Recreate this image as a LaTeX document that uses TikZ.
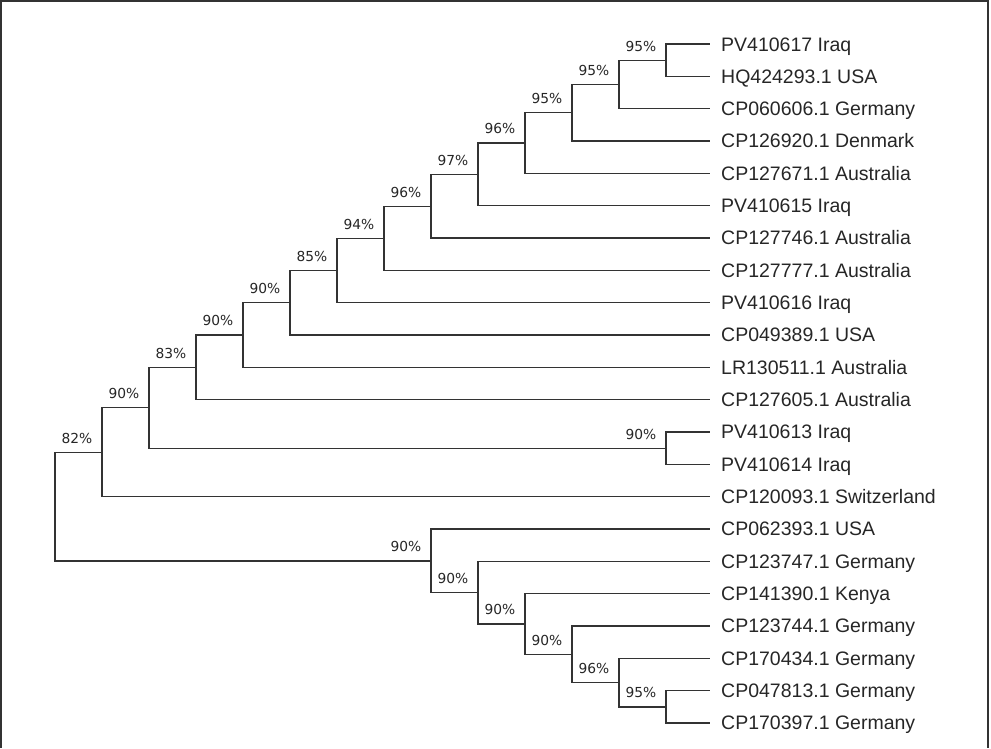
\documentclass[tikz,border=0pt]{standalone}
\usepackage{fontspec}
\setmainfont{Liberation Sans}
\newfontfamily\bootfont{DejaVu Sans}
\definecolor{treeline}{HTML}{333333}
\definecolor{leaftext}{HTML}{262626}
\begin{document}
\begin{tikzpicture}[x=1pt,y=-1pt,
    branch/.style={draw=treeline,line width=1.4pt},
    leaf/.style={anchor=west,inner xsep=11pt,inner ysep=0pt,text height=14pt,
      text depth=0pt,text=leaftext,font=\fontsize{19.5}{22}\selectfont},
    boot/.style={inner sep=0pt,text height=9.8pt,text depth=0pt,text=leaftext,
      font=\bootfont\fontsize{13.8}{15}\selectfont}]
  \useasboundingbox (0,0) rectangle (991,748);
  % frame, open at the bottom
  \draw[treeline,line width=1.5pt] (0.75,748) -- (0.75,0.75) -- (988,0.75) -- (988,748);

  % taxa, one row each
  \foreach \i/\lab in {0/PV410617 Iraq,1/HQ424293.1 USA,2/CP060606.1 Germany,
      3/CP126920.1 Denmark,4/CP127671.1 Australia,5/PV410615 Iraq,
      6/CP127746.1 Australia,7/CP127777.1 Australia,8/PV410616 Iraq,
      9/CP049389.1 USA,10/LR130511.1 Australia,11/CP127605.1 Australia,
      12/PV410613 Iraq,13/PV410614 Iraq,14/CP120093.1 Switzerland,
      15/CP062393.1 USA,16/CP123747.1 Germany,17/CP141390.1 Kenya,
      18/CP123744.1 Germany,19/CP170434.1 Germany,20/CP047813.1 Germany,
      21/CP170397.1 Germany}{
    \node[leaf] (l\i) at (710,{44+32.33*\i}) {\lab};
  }

  % internal nodes (x of the split, mean y of the two children)
  \foreach \n/\x/\y in {A/666/60.2,B/619/84.4,C/572/112.7,D/525/143,
      E/478/174.3,F/431/206.2,G/384/238.2,H/337/270.4,I/290/302.7,
      J/243/335,K/196/367.3,L/666/448.2,M/149/407.7,N/102/452.2,
      U/666/706.8,T/619/682.5,S/572/654.3,R/525/624,Q/478/592.6,
      P/431/560.8,root/55/506.5}{
    \coordinate (\n) at (\x,\y);
  }

  % branches
  \foreach \p/\c in {A/l0,A/l1,B/A,B/l2,C/B,C/l3,D/C,D/l4,E/D,E/l5,
      F/E,F/l6,G/F,G/l7,H/G,H/l8,I/H,I/l9,J/I,J/l10,K/J,K/l11,
      L/l12,L/l13,M/K,M/L,N/M,N/l14,root/N,root/P,P/l15,P/Q,
      Q/l16,Q/R,R/l17,R/S,S/l18,S/T,T/l19,T/U,U/l20,U/l21}{
    \draw[branch] (\p) |- (\c);
  }

  % bootstrap support, left of each split
  \foreach \n/\v in {A/95,B/95,C/95,D/96,E/97,F/96,G/94,H/85,I/90,J/90,
      K/83,L/90,M/90,N/82,P/90,Q/90,R/90,S/90,T/96,U/95}{
    \node[boot] (b\n) at ([shift={(-25,-14)}]\n) {\v\%};
  }
\end{tikzpicture}
\end{document}
